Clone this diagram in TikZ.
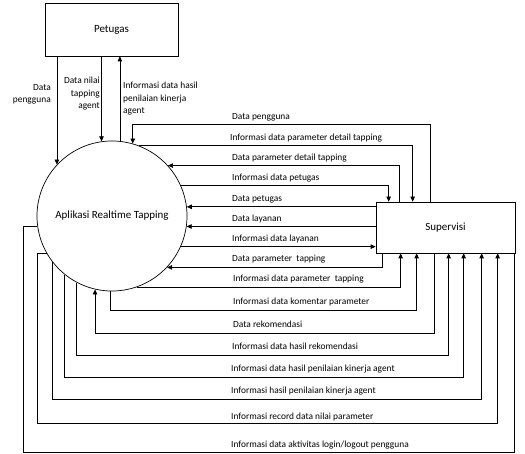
\documentclass[tikz,border=0pt]{standalone}
\usepackage{fontspec}
\setmainfont{Carlito}
\usetikzlibrary{arrows.meta,positioning}

\tikzset{
  flow/.style={draw, line width=0.7pt, -{Triangle[length=5pt,width=4.5pt]}},
  wire/.style={draw, line width=0.7pt},
  lbl/.style={anchor=base west, inner sep=0pt, font=\fontsize{9.4}{12.5}\selectfont},
  entity/.style={draw, line width=0.7pt, font=\fontsize{11}{13}\selectfont},
}

\begin{document}
\begin{tikzpicture}[x=1pt,y=-1pt]
\useasboundingbox (0,0) rectangle (525,454);
\node[entity, minimum width=133pt, minimum height=53pt] (petugas) at (111.5,29.5) {Petugas};
\node[entity, circle, minimum size=150pt, inner sep=0pt] (app) at (112,216) {Aplikasi Realtime Tapping};
\node[entity, minimum width=139pt, minimum height=51pt] (sup) at (445.5,227.5) {Supervisi};

% petugas <-> aplikasi
\draw[flow] (petugas.south -| app.137) -- (app.137);
\draw[flow] (petugas.south -| app.98) -- (app.98);
\draw[flow] (app.84) -- (app.84 |- petugas.south);
\node[lbl, anchor=north east, align=right] (pl1) at (51,84) {Data\\pengguna};
\node[lbl, anchor=north east, align=right] (pl2) at (100,77) {Data nilai\\tapping\\agent};
\node[lbl, anchor=north west, align=left] (pl3) at (123,82) {Informasi data hasil\\penilaian kinerja\\agent};

% supervisi -> aplikasi (atas)
\draw[flow] ([xshift=55pt]sup.north west) -- ++(0,-77) -| (app.74);
\draw[flow] (app.69) -| ([xshift=37pt]sup.north west);
\draw[flow] ([xshift=24pt]sup.north west) |- (app.42);
\draw[flow] (app.24) -| ([xshift=13pt]sup.north west);
\draw[flow] (app.7 -| sup.west) -- (app.7);
\draw[flow] (app.-8 -| sup.west) -- (app.-8);
\draw[flow] (app.-24) -- (app.-24 -| sup.west);
\draw[flow] ([xshift=7pt]sup.south west) |- (app.-43);
\draw[flow] (app.-71) -| ([xshift=25pt]sup.south west);

% supervisi <-> aplikasi (bawah)
\draw[flow] (app.-91) -- ++(0,19) -| ([xshift=41pt]sup.south west);
\draw[flow] ([xshift=59pt]sup.south west) -- ++(0,80) -| (app.-103);
\draw[flow] (app.-118) -- (app.-118 |- 0,355) -| ([xshift=73pt]sup.south west);
\draw[flow] (app.-129) -- (app.-129 |- 0,377) -| ([xshift=88pt]sup.south west);
\draw[flow] (app.-142) -- (app.-142 |- 0,399) -| ([xshift=106pt]sup.south west);
\draw[flow] (app.-150) -| (37,423) -| ([xshift=122pt]sup.south west);
\draw[wire] (app.-172) -| (23,452) -| ([xshift=-1pt]sup.south east);

\node[lbl] (f1) at (232,120) {Data pengguna};
\node[lbl] (f2) at (230,141) {Informasi data parameter detail tapping};
\node[lbl] (f3) at (232,161) {Data parameter detail tapping};
\node[lbl] (f4) at (232,181) {Informasi data petugas};
\node[lbl] (f5) at (232,202) {Data petugas};
\node[lbl] (f6) at (232,222) {Data layanan};
\node[lbl] (f7) at (232,242) {Informasi data layanan};
\node[lbl] (f8) at (232,262) {Data parameter\ \ tapping};
\node[lbl] (f9) at (233,282) {Informasi data parameter\ \ tapping};
\node[lbl] (f10) at (233,305) {Informasi data komentar parameter};
\node[lbl] (f11) at (233,328) {Data rekomendasi};
\node[lbl] (f12) at (232,350) {Informasi data hasil rekomendasi};
\node[lbl] (f13) at (231,372) {Informasi data hasil penilaian kinerja agent};
\node[lbl] (f14) at (231,394) {Informasi hasil penilaian kinerja agent};
\node[lbl] (f15) at (231,419) {Informasi record data nilai parameter};
\node[lbl] (f16) at (231,447) {Informasi data aktivitas login/logout pengguna};
\end{tikzpicture}
\end{document}
